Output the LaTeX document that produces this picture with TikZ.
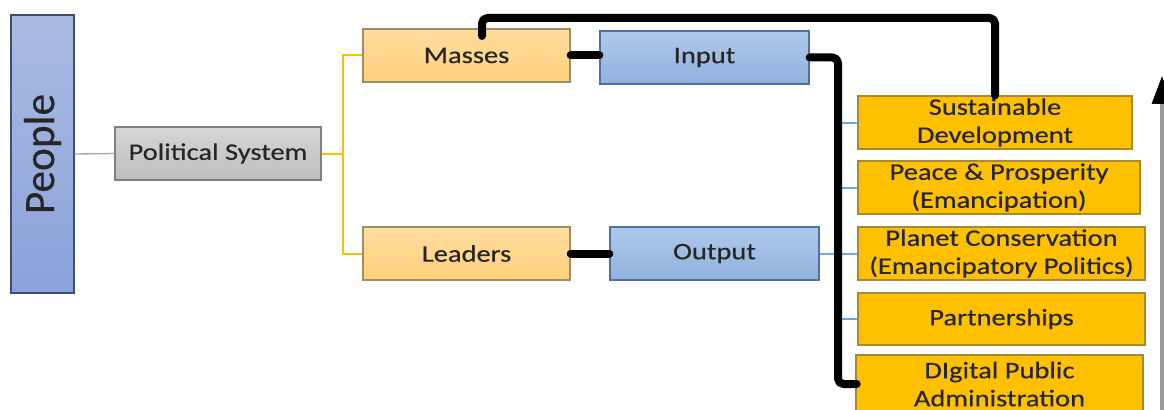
\documentclass[tikz,border=0pt]{standalone}
\usepackage{fontspec}
\setmainfont{Carlito}[FakeStretch=1.2, FakeBold=0.4]
\newfontfamily\peoplefont{Carlito}[FakeBold=0.3]
\usetikzlibrary{arrows.meta}
\definecolor{txt}{HTML}{262626}
\tikzset{
  box/.style={draw, line width=1pt, inner sep=0pt, align=center, text=txt,
    font=\fontsize{17.8}{21}\selectfont},
  peoplebox/.style={box, top color=peopletop, bottom color=peoplebot, draw=peopleedge},
  graybox/.style={box, top color=graytop, bottom color=graybot, draw=grayedge},
  orangebox/.style={box, top color=orangetop, bottom color=orangebot, draw=orangeedge},
  bluebox/.style={box, top color=bluetop, bottom color=bluebot, draw=blueedge},
  goldbox/.style={box, fill=gold, draw=goldedge},
  blackline/.style={line width=6pt, line cap=round, line join=round, rounded corners=4pt, black},
  yellowline/.style={line width=1.5pt, draw=gold},
  blueline/.style={line width=1.5pt, draw=linkblue},
  grayline/.style={line width=1pt, draw=gray!70},
}
\definecolor{peopletop}{HTML}{AABBE3}
\definecolor{peoplebot}{HTML}{8AA2DA}
\definecolor{peopleedge}{HTML}{3F4E6E}
\definecolor{graytop}{HTML}{D6D6D6}
\definecolor{graybot}{HTML}{BDBDBD}
\definecolor{grayedge}{HTML}{7F7F7F}
\definecolor{orangetop}{HTML}{FFDD9E}
\definecolor{orangebot}{HTML}{FFD07C}
\definecolor{orangeedge}{HTML}{9E8E66}
\definecolor{bluetop}{HTML}{AEC8EA}
\definecolor{bluebot}{HTML}{90B1DE}
\definecolor{blueedge}{HTML}{52709C}
\definecolor{gold}{HTML}{FFC000}
\definecolor{goldedge}{HTML}{A88A2E}
\definecolor{linkblue}{HTML}{6FA6DC}
\begin{document}
\begin{tikzpicture}[x=0.75pt, y=-0.75pt]
\useasboundingbox (0,0) rectangle (1164,410);
\clip (0,0) rectangle (1164,410);
% nodes
\node[peoplebox, minimum width=47.25pt, minimum height=208.5pt] (people) at (42.5,154)
  {\rotatebox{90}{\peoplefont\fontsize{32.5}{32.5}\selectfont People}};
\node[graybox, minimum width=154.5pt, minimum height=39.75pt] (ps) at (218,153.5) {Political System};
\node[orangebox, minimum width=155.25pt, minimum height=39.75pt] (masses) at (466.5,55.5) {Masses};
\node[orangebox, minimum width=155.25pt, minimum height=39.75pt] (leaders) at (466.5,253.5) {Leaders};
\node[bluebox, minimum width=156.75pt, minimum height=39.75pt] (input) at (704.5,57.5) {Input};
\node[bluebox, minimum width=156.75pt, minimum height=39.75pt] (output) at (714.5,253.5) {Output};
\node[goldbox, minimum width=205.5pt, minimum height=39.75pt] (sust) at (995,122.5) {Sustainable\\Development};
\node[goldbox, minimum width=211.5pt, minimum height=39.75pt] (peace) at (999,187.5) {Peace \& Prosperity\\(Emancipation)};
\node[goldbox, minimum width=215.25pt, minimum height=39.75pt] (planet) at (1001.5,253.5) {Planet Conservation\\(Emancipatory Politics)};
\node[goldbox, minimum width=215.25pt, minimum height=39pt] (partn) at (1001.5,319) {Partnerships};
\node[goldbox, minimum width=215.25pt, minimum height=43.5pt, text depth=0pt] (digital) at (999.5,384) {DIgital Public\\Administration};
% coordinates
\coordinate (yj) at (343,153.5);
\coordinate (bj) at (838,253.5);
\coordinate (bx) at (838,0);
\coordinate (mtop) at (482,36);
\coordinate (ty) at (0,18);
\coordinate (arb) at (1162,415);
\coordinate (art) at (1162,76);
% connectors
\draw[grayline] (people.east) -- (ps.west);
\draw[yellowline] (ps.east) -- (yj);
\draw[yellowline] (yj) |- (masses.west);
\draw[yellowline] (yj) |- (leaders.west);
\draw[blueline] (output.east) -- (bj);
\draw[blueline] (bj |- sust.west) -- (bj |- partn.west);
\draw[blueline] (bj |- sust.west) -- (sust.west);
\draw[blueline] (bj |- peace.west) -- (peace.west);
\draw[blueline] (bj) -- (planet.west);
\draw[blueline] (bj |- partn.west) -- (partn.west);
\draw[blackline] (masses.east) -- (input.west |- masses.east);
\draw[blackline] (leaders.east) -- (output.west);
\draw[blackline] (input.east) -| (bx |- digital.west) -- ([xshift=1pt]digital.west);
\draw[blackline] (mtop) -- (mtop |- ty) -| (sust.north);
\draw[line width=2.5pt, draw=gray!80, -{Triangle[length=21pt, width=15pt, fill=black, black]}] (arb) -- (art);
\end{tikzpicture}
\end{document}
